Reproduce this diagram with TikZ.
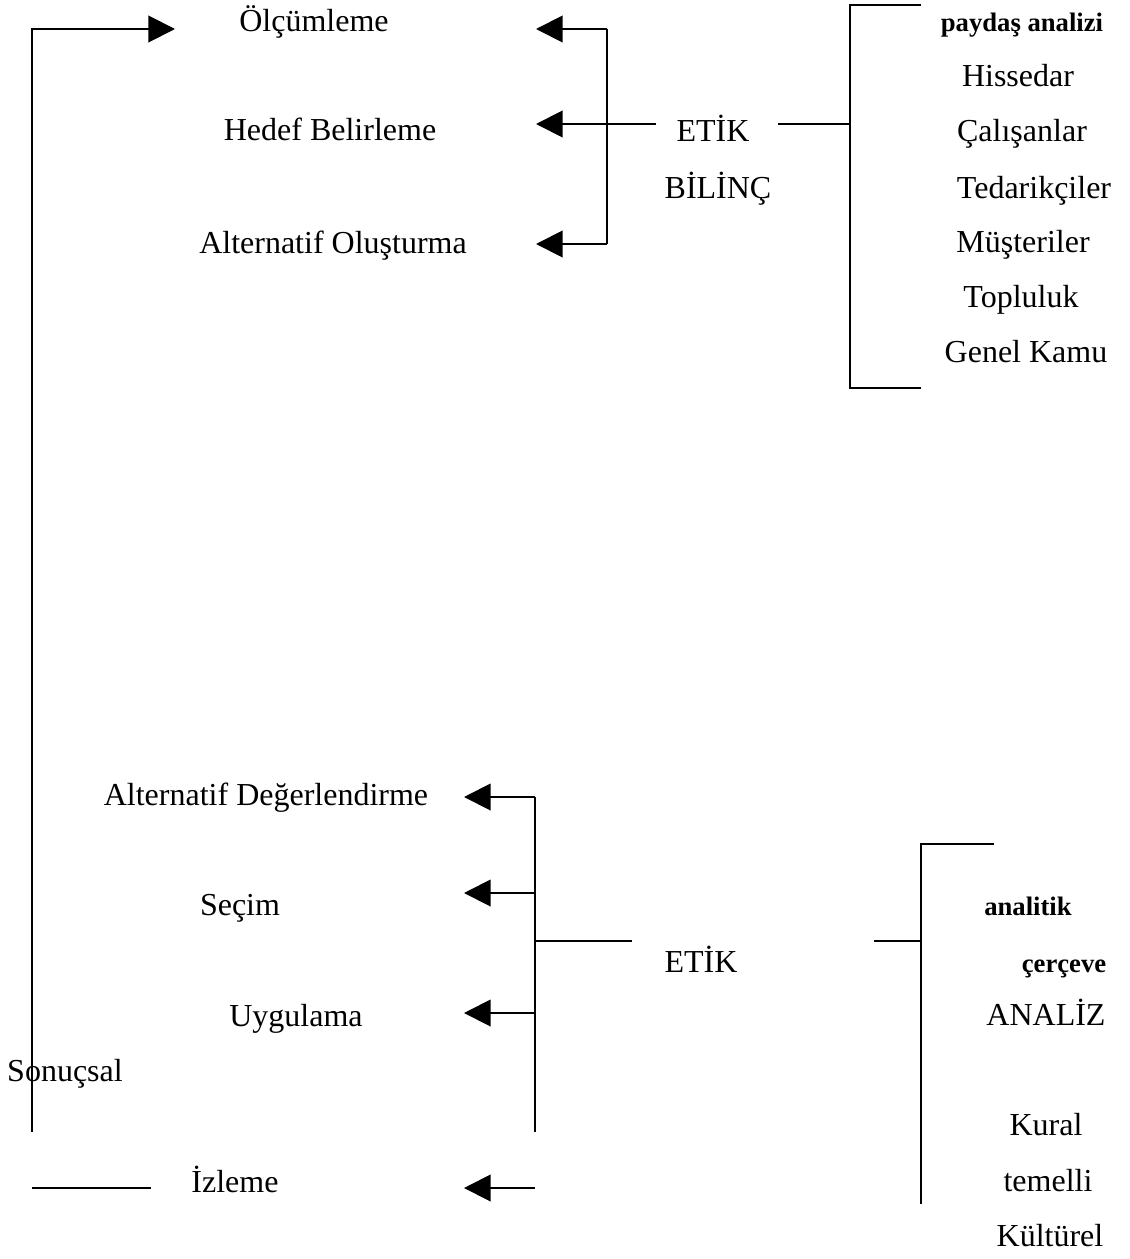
\documentclass[tikz,border=0pt]{standalone}
\usepackage{fontspec}
\setmainfont{Liberation Serif}
\usetikzlibrary{arrows.meta}
\begin{document}
\begin{tikzpicture}[x=0.75pt,y=-0.75pt,
  lbl/.style={anchor=base, inner sep=0pt, font=\fontsize{24}{28}\selectfont},
  blbl/.style={anchor=base, inner sep=0pt, font=\fontsize{20}{24}\selectfont\bfseries},
  arr/.style={line width=1.5pt, -{Triangle[length=20pt,width=20pt]}},
  ln/.style={line width=1pt},
  bln/.style={line width=1.5pt}]
\useasboundingbox (0,0) rectangle (1129,1259);

% ---- top texts
\node[lbl] (olc)   at (314,32)  {Ölçümleme};
\node[lbl] (hedef) at (330,141) {Hedef Belirleme};
\node[lbl] (altO)  at (333,253) {Alternatif Oluşturma};
\node[lbl] (etik1) at (713,142) {ETİK};
\node[lbl] (bil)   at (718,198) {BİLİNÇ};
\node[blbl] (pay)  at (1022,32) {paydaş analizi};
\node[lbl] (his)   at (1018,87) {Hissedar};
\node[lbl] (cal)   at (1022,142) {Çalışanlar};
\node[lbl] (ted)   at (1034,198) {Tedarikçiler};
\node[lbl] (mus)   at (1023,252) {Müşteriler};
\node[lbl] (top)   at (1021,307) {Topluluk};
\node[lbl] (gen)   at (1026,362) {Genel Kamu};

% ---- bottom texts
\node[lbl] (altD)  at (266,805)  {Alternatif Değerlendirme};
\node[lbl] (sec)   at (240,915)  {Seçim};
\node[lbl] (uyg)   at (296,1026) {Uygulama};
\node[lbl] (son)   at (65,1081)  {Sonuçsal};
\node[lbl] (izl)   at (235,1192) {İzleme};
\node[lbl] (etik2) at (701,972)  {ETİK};
\node[blbl] (ana)  at (1028,915) {analitik};
\node[blbl] (cer)  at (1064,972) {çerçeve};
\node[lbl] (anz)   at (1046,1025) {ANALİZ};
\node[lbl] (kur)   at (1046,1135) {Kural};
\node[lbl] (tem)   at (1048,1191) {temelli};
\node[lbl] (kul)   at (1050,1246) {Kültürel};

% ---- coordinates (top)
\coordinate (lb)   at (32,1132);
\coordinate (tOlc) at (175,29);
\coordinate (bT)   at (607,29);
\coordinate (bB)   at (607,244);
\coordinate (aT)   at (536,29);
\coordinate (aM)   at (536,124);
\coordinate (aB)   at (536,244);
\coordinate (eL)   at (656,124);
\coordinate (eR)   at (778,124);
\coordinate (rM)   at (850,124);
\coordinate (rT)   at (850,5);
\coordinate (rB)   at (850,388);
\coordinate (rTe)  at (921,5);
\coordinate (rBe)  at (921,388);

% ---- coordinates (bottom)
\coordinate (vT)  at (535,797);
\coordinate (vS)  at (535,893);
\coordinate (vU)  at (535,1013);
\coordinate (vB)  at (535,1132);
\coordinate (vE)  at (535,941);
\coordinate (vI)  at (535,1188);
\coordinate (pT)  at (464,797);
\coordinate (pS)  at (464,893);
\coordinate (pU)  at (464,1013);
\coordinate (pI)  at (464,1188);
\coordinate (eL2) at (632,941);
\coordinate (eR2) at (874,941);
\coordinate (sM)  at (921,941);
\coordinate (sT)  at (921,844);
\coordinate (sB)  at (921,1204);
\coordinate (sTe) at (994,844);
\coordinate (iL)  at (32,1188);
\coordinate (iR)  at (151,1188);

% ---- top connectors
\draw[arr] (lb) |- (tOlc);
\draw[bln] (bT) -- (bB);
\draw[arr] (bT) -- (aT);
\draw[arr] (bB) -- (aB);
\draw[arr] (eL) -- (aM);
\draw[ln] (eR) -- (rM);
\draw[ln] (rTe) -- (rT) -- (rB) -- (rBe);

% ---- bottom connectors
\draw[ln] (vT) -- (vB);
\draw[arr] (vT) -- (pT);
\draw[arr] (vS) -- (pS);
\draw[arr] (vU) -- (pU);
\draw[arr] (vI) -- (pI);
\draw[ln] (vE) -- (eL2);
\draw[ln] (eR2) -- (sM);
\draw[ln] (sTe) -- (sT) -- (sB);
\draw[ln] (iL) -- (iR);
\end{tikzpicture}
\end{document}
